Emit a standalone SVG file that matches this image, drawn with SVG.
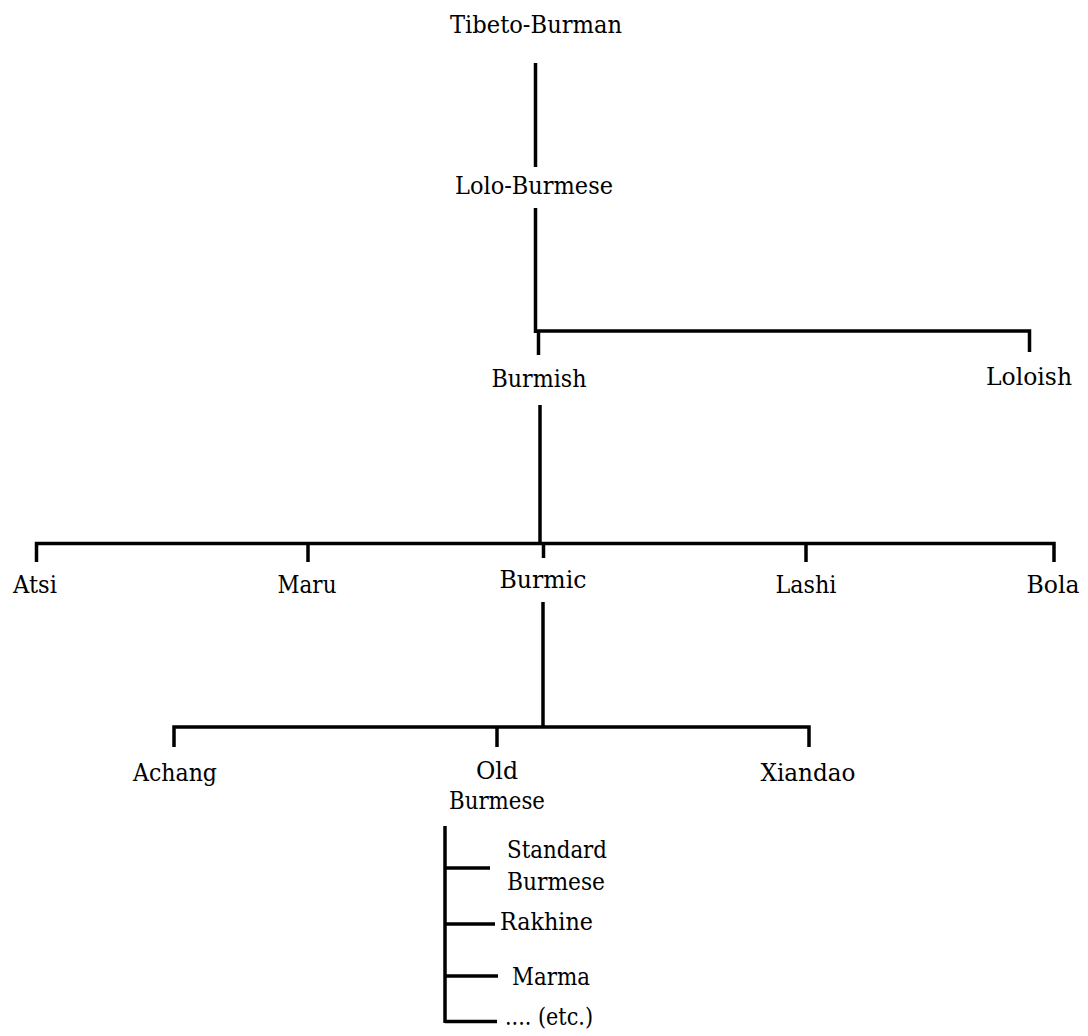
<svg xmlns="http://www.w3.org/2000/svg" width="1088" height="1036" viewBox="0 0 1088 1036">
<style>
text{font-family:'DejaVu Serif','Liberation Serif',serif;font-size:25px;fill:#000}
.t{text-anchor:middle}
.s{text-anchor:start}
.c{stroke:#000;stroke-width:3.5;fill:none;stroke-linecap:butt;stroke-linejoin:miter}
</style>
<rect width="1088" height="1036" fill="#fff"/>
<g id="connectors" class="c">
<path d="M535.5 63V167"/>
<path d="M535.5 208V333"/>
<path d="M535.5 331H1029.5V352"/>
<path d="M538.5 331V355"/>
<path d="M540 405V543"/>
<path d="M36.5 562V543.5H1054V562"/>
<path d="M308 543.5V562"/>
<path d="M543.5 543.5V558"/>
<path d="M806 543.5V562"/>
<path d="M543 602V727"/>
<path d="M174 747V727H809V747"/>
<path d="M497 727V747"/>
<path d="M445 826V1023"/>
<path d="M445 868H490"/>
<path d="M445 924H495"/>
<path d="M445 976H498"/>
<path d="M445 1021.5H497"/>
</g>
<g id="tibeto-burman"><text class="t" x="536" y="33" textLength="172" lengthAdjust="spacingAndGlyphs">Tibeto-Burman</text></g>
<g id="lolo-burmese"><text class="t" x="534" y="194" textLength="158" lengthAdjust="spacingAndGlyphs">Lolo-Burmese</text></g>
<g id="burmish"><text class="t" x="539" y="387" textLength="95" lengthAdjust="spacingAndGlyphs">Burmish</text></g>
<g id="loloish"><text class="t" x="1029" y="385" textLength="86" lengthAdjust="spacingAndGlyphs">Loloish</text></g>
<g id="atsi"><text class="t" x="35" y="593" textLength="44" lengthAdjust="spacingAndGlyphs">Atsi</text></g>
<g id="maru"><text class="t" x="307" y="593" textLength="59" lengthAdjust="spacingAndGlyphs">Maru</text></g>
<g id="burmic"><text class="t" x="543" y="588" textLength="87" lengthAdjust="spacingAndGlyphs">Burmic</text></g>
<g id="lashi"><text class="t" x="806" y="593" textLength="61" lengthAdjust="spacingAndGlyphs">Lashi</text></g>
<g id="bola"><text class="t" x="1053" y="593" textLength="53" lengthAdjust="spacingAndGlyphs">Bola</text></g>
<g id="achang"><text class="t" x="175" y="781" textLength="84" lengthAdjust="spacingAndGlyphs">Achang</text></g>
<g id="old-burmese"><text class="t" x="497" y="779" textLength="42" lengthAdjust="spacingAndGlyphs">Old</text><text class="t" x="497" y="809" textLength="96" lengthAdjust="spacingAndGlyphs">Burmese</text></g>
<g id="xiandao"><text class="t" x="808" y="781" textLength="95" lengthAdjust="spacingAndGlyphs">Xiandao</text></g>
<g id="standard-burmese"><text class="s" x="507" y="858" textLength="100" lengthAdjust="spacingAndGlyphs">Standard</text><text class="s" x="507" y="890" textLength="98" lengthAdjust="spacingAndGlyphs">Burmese</text></g>
<g id="rakhine"><text class="s" x="500" y="930" textLength="93" lengthAdjust="spacingAndGlyphs">Rakhine</text></g>
<g id="marma"><text class="s" x="512" y="985" textLength="78" lengthAdjust="spacingAndGlyphs">Marma</text></g>
<g id="etc"><text class="s" x="505" y="1025" textLength="88" lengthAdjust="spacingAndGlyphs">.... (etc.)</text></g>
</svg>
